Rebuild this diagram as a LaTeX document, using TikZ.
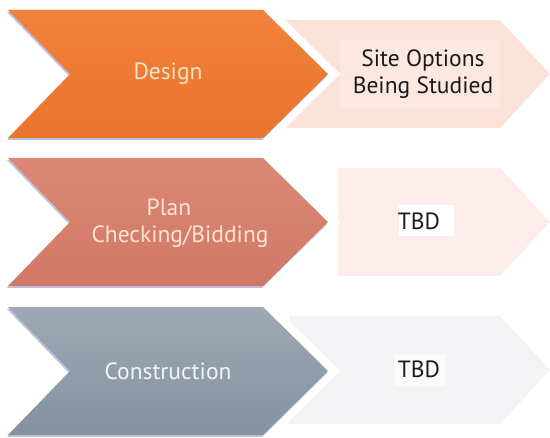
\documentclass[tikz,border=0pt]{standalone}
\usepackage{fontspec}
\setmainfont{PT Sans}
\usetikzlibrary{shadows}
\definecolor{orangeA}{HTML}{F1813A}
\definecolor{orangeB}{HTML}{EA742D}
\definecolor{roseA}{HTML}{DB8975}
\definecolor{roseB}{HTML}{D07866}
\definecolor{slateA}{HTML}{9DA9B5}
\definecolor{slateB}{HTML}{84929F}
\definecolor{peach}{HTML}{FBE2D8}
\definecolor{peachin}{HTML}{FCE8E0}
\definecolor{blush}{HTML}{FCEDEA}
\definecolor{mist}{HTML}{F3F3F5}
\definecolor{txtOrange}{HTML}{FDE3C8}
\definecolor{txtRose}{HTML}{FCE3D2}
\definecolor{txtSlate}{HTML}{F2F4F7}
\definecolor{ink}{HTML}{1A1A1A}
\tikzset{
  x=1pt, y=-1pt,
  stagetext/.style={font=\fontsize{23.5}{27}\selectfont, align=center, inner sep=0pt},
  infotext/.style={font=\fontsize{23.5}{26.5}\selectfont, align=center, text=ink, inner sep=0pt},
  chevshadow/.style={drop shadow={shadow xshift=-1pt, shadow yshift=-2pt, opacity=0.25, fill=black!60!blue}},
  gap/.style={draw=white, line width=17pt, line join=miter}
}
\newcommand{\chevpath}[1]{(8,#1-64) -- (263,#1-64) -- (328,#1) -- (263,#1+64) -- (8,#1+64) -- (70,#1) -- cycle}
\begin{document}
\begin{tikzpicture}
\useasboundingbox (0,0) rectangle (550,438);
% right pentagons
\fill[peach] (286,20) -- (500,20) -- (550,74) -- (500,128) -- (286,128) -- cycle;
\fill[peachin] (340,40) rectangle (500,108);
\fill[blush] (338,168) -- (500,168) -- (550,222) -- (500,276) -- (338,276) -- cycle;
\fill[white] (399,205) rectangle (454,236);
\fill[mist] (289,316) -- (500,316) -- (550,370) -- (500,424) -- (289,424) -- cycle;
\fill[white!60!mist] (394,354) rectangle (446,386);
% chevrons
\draw[gap] \chevpath{74};
\shade[chevshadow, top color=orangeA, bottom color=orangeB] \chevpath{74};
\draw[gap] \chevpath{222};
\shade[chevshadow, top color=roseA, bottom color=roseB] \chevpath{222};
\draw[gap] \chevpath{371};
\shade[chevshadow, top color=slateA, bottom color=slateB] \chevpath{371};
% texts
\node[stagetext, text=txtOrange] (design) at (168,74) {Design};
\node[stagetext, text=txtRose] (plan) at (180,223) {Plan\rule{22pt}{0pt}\\Checking/Bidding};
\node[stagetext, text=txtSlate] (construction) at (168,371) {Construction};
\node[infotext] (site) at (423,74) {Site Options\\Being Studied};
\node[infotext] (tbd1) at (419,221) {TBD};
\node[infotext] (tbd2) at (419,369) {TBD};
\end{tikzpicture}
\end{document}
